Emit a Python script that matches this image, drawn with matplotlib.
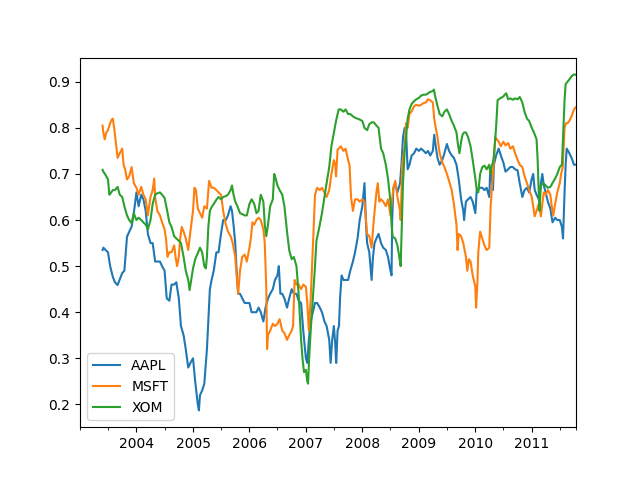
import matplotlib
matplotlib.use("Agg")
import matplotlib.pyplot as plt
import matplotlib.dates as mdates
import pandas as pd

# 125-day rolling correlation with SPX
aapl_dates = ["2003-05-27", "2003-06-01", "2003-07-01", "2003-07-15", "2003-08-01", "2003-08-15",
              "2003-09-01", "2003-10-01", "2003-10-15", "2003-11-01", "2003-12-01", "2003-12-15",
              "2004-01-01", "2004-01-15", "2004-02-01", "2004-02-15", "2004-03-01", "2004-03-15",
              "2004-04-01", "2004-04-15", "2004-05-01", "2004-06-01", "2004-06-15", "2004-07-01",
              "2004-07-15", "2004-08-01", "2004-08-15", "2004-09-01", "2004-09-15", "2004-10-01",
              "2004-10-15", "2004-11-01", "2004-11-15", "2004-12-01", "2004-12-15", "2005-01-01",
              "2005-01-15", "2005-02-01", "2005-02-08", "2005-02-15", "2005-03-01", "2005-03-15",
              "2005-04-01", "2005-04-10", "2005-04-20", "2005-05-01", "2005-05-15", "2005-06-01",
              "2005-06-15", "2005-07-01", "2005-07-15", "2005-08-01", "2005-08-15", "2005-09-01",
              "2005-09-10", "2005-09-20", "2005-10-01", "2005-10-10", "2005-10-20", "2005-11-01",
              "2005-12-01", "2006-01-01", "2006-01-15", "2006-02-01", "2006-02-15", "2006-03-01",
              "2006-03-15", "2006-04-01", "2006-04-15", "2006-05-01", "2006-05-15", "2006-06-01",
              "2006-06-15", "2006-07-01", "2006-07-10", "2006-07-20", "2006-08-01", "2006-08-15",
              "2006-09-01", "2006-09-15", "2006-10-01", "2006-10-15", "2006-11-01", "2006-11-15",
              "2006-12-01", "2006-12-15", "2007-01-01", "2007-01-10", "2007-01-20", "2007-02-01",
              "2007-02-15", "2007-03-01", "2007-03-15", "2007-04-01", "2007-04-15", "2007-05-01",
              "2007-05-15", "2007-06-01", "2007-06-10", "2007-06-20", "2007-07-01", "2007-07-10",
              "2007-07-16", "2007-07-25", "2007-08-03", "2007-08-10", "2007-08-20", "2007-09-01",
              "2007-09-15", "2007-10-01", "2007-10-15", "2007-11-01", "2007-11-15", "2007-12-01",
              "2007-12-15", "2008-01-01", "2008-01-15", "2008-01-25", "2008-02-01", "2008-02-15",
              "2008-03-01", "2008-03-10", "2008-03-20", "2008-04-01", "2008-04-15", "2008-05-01",
              "2008-05-15", "2008-06-01", "2008-06-15", "2008-07-01", "2008-07-08", "2008-07-12",
              "2008-07-20", "2008-08-01", "2008-08-15", "2008-09-01", "2008-09-10", "2008-09-20",
              "2008-10-01", "2008-10-10", "2008-10-20", "2008-11-01", "2008-11-15", "2008-12-01",
              "2008-12-15", "2009-01-01", "2009-01-15", "2009-02-01", "2009-02-15", "2009-03-01",
              "2009-03-15", "2009-04-01", "2009-04-10", "2009-04-20", "2009-05-01", "2009-05-15",
              "2009-06-01", "2009-06-15", "2009-07-01", "2009-07-15", "2009-08-01", "2009-08-15",
              "2009-09-01", "2009-09-15", "2009-10-01", "2009-10-15", "2009-10-20", "2009-11-01",
              "2009-11-15", "2009-12-01", "2009-12-15", "2010-01-01", "2010-01-10", "2010-02-01",
              "2010-02-15", "2010-03-01", "2010-03-15", "2010-04-01", "2010-04-08", "2010-04-15",
              "2010-04-25", "2010-05-01", "2010-05-15", "2010-06-01", "2010-06-15", "2010-07-01",
              "2010-07-15", "2010-08-01", "2010-08-15", "2010-09-01", "2010-09-15", "2010-10-01",
              "2010-10-15", "2010-11-01", "2010-11-15", "2010-12-01", "2010-12-15", "2011-01-01",
              "2011-01-10", "2011-01-20", "2011-02-01", "2011-02-15", "2011-03-01", "2011-03-10",
              "2011-03-20", "2011-04-01", "2011-04-15", "2011-05-01", "2011-05-15", "2011-06-01",
              "2011-06-15", "2011-07-01", "2011-07-15", "2011-07-22", "2011-08-01", "2011-08-08",
              "2011-08-15", "2011-09-01", "2011-09-15", "2011-10-01", "2011-10-14"]
aapl_vals = [0.535, 0.54, 0.53, 0.50, 0.477, 0.465,
             0.459, 0.485, 0.49, 0.564, 0.586, 0.615,
             0.66, 0.63, 0.655, 0.645, 0.62, 0.57,
             0.55, 0.55, 0.51, 0.51, 0.50, 0.49,
             0.43, 0.425, 0.46, 0.46, 0.465, 0.43,
             0.37, 0.35, 0.32, 0.28, 0.29, 0.30,
             0.25, 0.20, 0.187, 0.22, 0.23, 0.245,
             0.32, 0.38, 0.45, 0.47, 0.49, 0.53,
             0.53, 0.57, 0.60, 0.60, 0.61, 0.63,
             0.62, 0.59, 0.55, 0.49, 0.44, 0.44,
             0.42, 0.42, 0.40, 0.40, 0.40, 0.41,
             0.40, 0.38, 0.41, 0.43, 0.44, 0.45,
             0.47, 0.48, 0.50, 0.44, 0.44, 0.43,
             0.41, 0.43, 0.45, 0.44, 0.44, 0.425,
             0.42, 0.36, 0.30, 0.29, 0.34, 0.38,
             0.40, 0.42, 0.42, 0.41, 0.40, 0.38,
             0.37, 0.34, 0.29, 0.34, 0.37, 0.33,
             0.29, 0.36, 0.37, 0.43, 0.48, 0.47,
             0.47, 0.47, 0.49, 0.51, 0.53, 0.56,
             0.60, 0.63, 0.68, 0.59, 0.55, 0.53,
             0.47, 0.52, 0.55, 0.56, 0.57, 0.55,
             0.54, 0.535, 0.52, 0.49, 0.48, 0.60,
             0.67, 0.68, 0.66, 0.68, 0.72, 0.78,
             0.80, 0.79, 0.71, 0.72, 0.74, 0.745,
             0.755, 0.75, 0.755, 0.75, 0.745, 0.75,
             0.74, 0.75, 0.785, 0.76, 0.735, 0.72,
             0.73, 0.745, 0.765, 0.75, 0.74, 0.735,
             0.72, 0.69, 0.645, 0.62, 0.60, 0.64,
             0.645, 0.65, 0.64, 0.615, 0.665, 0.67,
             0.67, 0.665, 0.67, 0.65, 0.715, 0.69,
             0.665, 0.72, 0.74, 0.755, 0.74, 0.725,
             0.705, 0.71, 0.715, 0.715, 0.71, 0.708,
             0.68, 0.65, 0.665, 0.67, 0.66, 0.69,
             0.70, 0.665, 0.655, 0.645, 0.68, 0.70,
             0.675, 0.66, 0.64, 0.625, 0.595, 0.605,
             0.60, 0.60, 0.585, 0.56, 0.66, 0.72,
             0.755, 0.745, 0.735, 0.72, 0.72]

msft_dates = ["2003-05-27", "2003-06-01", "2003-06-10", "2003-06-20", "2003-07-01", "2003-07-15",
              "2003-07-25", "2003-08-01", "2003-08-10", "2003-08-20", "2003-09-01", "2003-09-15",
              "2003-10-01", "2003-10-10", "2003-10-20", "2003-11-01", "2003-11-15", "2003-12-01",
              "2003-12-15", "2004-01-01", "2004-01-15", "2004-02-01", "2004-02-15", "2004-03-01",
              "2004-03-15", "2004-04-01", "2004-04-15", "2004-04-25", "2004-05-01", "2004-05-15",
              "2004-06-01", "2004-06-15", "2004-07-01", "2004-07-10", "2004-07-20", "2004-08-01",
              "2004-08-15", "2004-09-01", "2004-09-10", "2004-09-20", "2004-10-01", "2004-10-10",
              "2004-10-20", "2004-11-01", "2004-11-15", "2004-12-01", "2004-12-15", "2005-01-01",
              "2005-01-10", "2005-01-20", "2005-02-01", "2005-02-15", "2005-03-01", "2005-03-15",
              "2005-04-01", "2005-04-15", "2005-05-01", "2005-05-15", "2005-06-01", "2005-06-15",
              "2005-07-01", "2005-07-15", "2005-08-01", "2005-08-15", "2005-09-01", "2005-09-15",
              "2005-10-01", "2005-10-10", "2005-10-20", "2005-11-01", "2005-11-15", "2005-12-01",
              "2005-12-15", "2006-01-01", "2006-01-10", "2006-01-20", "2006-02-01", "2006-02-15",
              "2006-03-01", "2006-03-15", "2006-04-01", "2006-04-10", "2006-04-20", "2006-04-25",
              "2006-05-01", "2006-05-15", "2006-06-01", "2006-06-15", "2006-07-01", "2006-07-15",
              "2006-08-01", "2006-08-15", "2006-09-01", "2006-09-15", "2006-10-01", "2006-10-10",
              "2006-10-20", "2006-11-01", "2006-11-15", "2006-12-01", "2006-12-15", "2007-01-01",
              "2007-01-10", "2007-01-20", "2007-02-01", "2007-02-10", "2007-02-20", "2007-03-01",
              "2007-03-15", "2007-04-01", "2007-04-15", "2007-05-01", "2007-05-15", "2007-06-01",
              "2007-06-15", "2007-07-01", "2007-07-10", "2007-07-15", "2007-07-25", "2007-08-01",
              "2007-08-15", "2007-09-01", "2007-09-15", "2007-10-01", "2007-10-10", "2007-10-20",
              "2007-11-01", "2007-11-15", "2007-12-01", "2007-12-15", "2008-01-01", "2008-01-15",
              "2008-02-01", "2008-02-15", "2008-03-01", "2008-03-15", "2008-04-01", "2008-04-10",
              "2008-04-20", "2008-05-01", "2008-05-15", "2008-06-01", "2008-06-15", "2008-07-01",
              "2008-07-10", "2008-07-20", "2008-08-01", "2008-08-15", "2008-09-01", "2008-09-05",
              "2008-09-15", "2008-10-01", "2008-10-10", "2008-10-20", "2008-11-01", "2008-11-15",
              "2008-12-01", "2008-12-15", "2009-01-01", "2009-01-15", "2009-02-01", "2009-02-15",
              "2009-03-01", "2009-03-15", "2009-04-01", "2009-04-10", "2009-04-20", "2009-05-01",
              "2009-05-15", "2009-06-01", "2009-06-15", "2009-07-01", "2009-07-15", "2009-08-01",
              "2009-08-15", "2009-09-01", "2009-09-08", "2009-09-15", "2009-10-01", "2009-10-15",
              "2009-11-01", "2009-11-10", "2009-11-20", "2009-12-01", "2009-12-15", "2010-01-01",
              "2010-01-06", "2010-01-15", "2010-01-20", "2010-02-01", "2010-02-15", "2010-03-01",
              "2010-03-15", "2010-04-01", "2010-04-10", "2010-04-20", "2010-05-01", "2010-05-10",
              "2010-05-20", "2010-06-01", "2010-06-15", "2010-07-01", "2010-07-15", "2010-08-01",
              "2010-08-15", "2010-09-01", "2010-09-15", "2010-10-01", "2010-10-15", "2010-11-01",
              "2010-11-15", "2010-12-01", "2010-12-15", "2011-01-01", "2011-01-10", "2011-01-20",
              "2011-02-01", "2011-02-15", "2011-03-01", "2011-03-10", "2011-03-20", "2011-04-01",
              "2011-04-15", "2011-05-01", "2011-05-10", "2011-05-20", "2011-06-01", "2011-06-15",
              "2011-07-01", "2011-07-10", "2011-07-20", "2011-08-01", "2011-08-10", "2011-08-20",
              "2011-09-01", "2011-09-15", "2011-10-01", "2011-10-14"]
msft_vals = [0.805, 0.79, 0.775, 0.79, 0.795, 0.81,
             0.818, 0.82, 0.80, 0.77, 0.735, 0.745,
             0.755, 0.72, 0.71, 0.688, 0.695, 0.715,
             0.68, 0.67, 0.655, 0.672, 0.655, 0.645,
             0.61, 0.65, 0.665, 0.69, 0.65, 0.62,
             0.61, 0.595, 0.58, 0.56, 0.52, 0.53,
             0.53, 0.545, 0.52, 0.50, 0.52, 0.56,
             0.585, 0.575, 0.56, 0.535, 0.575, 0.62,
             0.67, 0.665, 0.625, 0.615, 0.605, 0.63,
             0.625, 0.685, 0.67, 0.67, 0.665, 0.66,
             0.655, 0.62, 0.59, 0.575, 0.565, 0.55,
             0.52, 0.48, 0.44, 0.49, 0.52, 0.525,
             0.51, 0.54, 0.56, 0.595, 0.59, 0.60,
             0.605, 0.60, 0.58, 0.55, 0.45, 0.32,
             0.35, 0.36, 0.375, 0.37, 0.375, 0.385,
             0.36, 0.355, 0.34, 0.35, 0.36, 0.37,
             0.47, 0.46, 0.46, 0.45, 0.46, 0.455,
             0.42, 0.36, 0.43, 0.50, 0.58, 0.655,
             0.67, 0.665, 0.67, 0.66, 0.65, 0.665,
             0.70, 0.73, 0.72, 0.695, 0.753, 0.755,
             0.76, 0.75, 0.755, 0.73, 0.72, 0.65,
             0.62, 0.645, 0.645, 0.64, 0.645, 0.64,
             0.57, 0.565, 0.54, 0.60, 0.66, 0.68,
             0.64, 0.645, 0.64, 0.63, 0.645, 0.61,
             0.64, 0.67, 0.685, 0.65, 0.62, 0.60,
             0.72, 0.76, 0.81, 0.80, 0.83, 0.836,
             0.847, 0.85, 0.848, 0.85, 0.854, 0.855,
             0.862, 0.86, 0.855, 0.82, 0.80, 0.78,
             0.745, 0.725, 0.715, 0.70, 0.685, 0.665,
             0.635, 0.59, 0.535, 0.57, 0.565, 0.55,
             0.52, 0.49, 0.515, 0.51, 0.48, 0.455,
             0.41, 0.47, 0.53, 0.575, 0.56, 0.545,
             0.535, 0.54, 0.63, 0.68, 0.73, 0.78,
             0.775, 0.77, 0.76, 0.77, 0.762, 0.767,
             0.755, 0.76, 0.745, 0.731, 0.72, 0.715,
             0.695, 0.68, 0.665, 0.65, 0.63, 0.608,
             0.62, 0.635, 0.608, 0.635, 0.66, 0.655,
             0.665, 0.655, 0.63, 0.61, 0.635, 0.66,
             0.68, 0.70, 0.715, 0.80, 0.81, 0.81,
             0.815, 0.825, 0.84, 0.845]

xom_dates = ["2003-05-27", "2003-06-01", "2003-06-15", "2003-07-01", "2003-07-10", "2003-07-20",
             "2003-08-01", "2003-08-15", "2003-09-01", "2003-09-15", "2003-10-01", "2003-10-15",
             "2003-11-01", "2003-11-15", "2003-12-01", "2003-12-15", "2004-01-01", "2004-01-15",
             "2004-02-01", "2004-02-15", "2004-03-01", "2004-03-15", "2004-04-01", "2004-04-15",
             "2004-05-01", "2004-05-15", "2004-06-01", "2004-06-15", "2004-07-01", "2004-07-15",
             "2004-08-01", "2004-08-15", "2004-09-01", "2004-09-15", "2004-10-01", "2004-10-15",
             "2004-11-01", "2004-11-15", "2004-12-01", "2004-12-10", "2004-12-20", "2005-01-01",
             "2005-01-15", "2005-02-01", "2005-02-15", "2005-03-01", "2005-03-15", "2005-03-25",
             "2005-04-01", "2005-04-10", "2005-04-20", "2005-05-01", "2005-05-15", "2005-06-01",
             "2005-06-15", "2005-07-01", "2005-07-15", "2005-08-01", "2005-08-15", "2005-09-01",
             "2005-09-10", "2005-09-20", "2005-10-01", "2005-10-15", "2005-11-01", "2005-11-15",
             "2005-12-01", "2005-12-15", "2006-01-01", "2006-01-15", "2006-02-01", "2006-02-15",
             "2006-03-01", "2006-03-15", "2006-04-01", "2006-04-10", "2006-04-20", "2006-05-01",
             "2006-05-15", "2006-06-01", "2006-06-10", "2006-06-20", "2006-07-01", "2006-07-15",
             "2006-08-01", "2006-08-15", "2006-09-01", "2006-09-15", "2006-10-01", "2006-10-15",
             "2006-11-01", "2006-11-15", "2006-12-01", "2006-12-10", "2006-12-20", "2007-01-01",
             "2007-01-10", "2007-01-15", "2007-01-22", "2007-02-01", "2007-02-15", "2007-03-01",
             "2007-03-10", "2007-03-20", "2007-04-01", "2007-04-15", "2007-05-01", "2007-05-15",
             "2007-06-01", "2007-06-15", "2007-07-01", "2007-07-15", "2007-08-01", "2007-08-15",
             "2007-09-01", "2007-09-15", "2007-10-01", "2007-10-15", "2007-11-01", "2007-11-15",
             "2007-12-01", "2007-12-15", "2008-01-01", "2008-01-15", "2008-02-01", "2008-02-15",
             "2008-03-01", "2008-03-15", "2008-04-01", "2008-04-15", "2008-05-01", "2008-05-15",
             "2008-06-01", "2008-06-15", "2008-07-01", "2008-07-08", "2008-07-15", "2008-08-01",
             "2008-08-15", "2008-09-01", "2008-09-05", "2008-09-10", "2008-09-20", "2008-10-01",
             "2008-10-10", "2008-10-20", "2008-11-01", "2008-11-15", "2008-12-01", "2008-12-15",
             "2009-01-01", "2009-01-15", "2009-02-01", "2009-02-15", "2009-03-01", "2009-03-15",
             "2009-04-01", "2009-04-08", "2009-04-15", "2009-05-01", "2009-05-15", "2009-06-01",
             "2009-06-15", "2009-07-01", "2009-07-15", "2009-08-01", "2009-08-15", "2009-09-01",
             "2009-09-10", "2009-09-20", "2009-10-01", "2009-10-10", "2009-10-20", "2009-11-01",
             "2009-11-15", "2009-12-01", "2009-12-15", "2010-01-01", "2010-01-10", "2010-01-20",
             "2010-02-01", "2010-02-15", "2010-03-01", "2010-03-15", "2010-04-01", "2010-04-08",
             "2010-04-15", "2010-04-25", "2010-05-01", "2010-05-08", "2010-05-15", "2010-05-25",
             "2010-06-01", "2010-06-15", "2010-07-01", "2010-07-10", "2010-07-20", "2010-08-01",
             "2010-08-15", "2010-09-01", "2010-09-15", "2010-10-01", "2010-10-15", "2010-11-01",
             "2010-11-15", "2010-12-01", "2010-12-15", "2011-01-01", "2011-01-15", "2011-02-01",
             "2011-02-08", "2011-02-15", "2011-02-20", "2011-03-01", "2011-03-15", "2011-04-01",
             "2011-04-15", "2011-05-01", "2011-05-15", "2011-06-01", "2011-06-15", "2011-07-01",
             "2011-07-15", "2011-07-25", "2011-08-01", "2011-08-08", "2011-08-20", "2011-09-01",
             "2011-09-15", "2011-10-01", "2011-10-14"]
xom_vals = [0.709, 0.705, 0.698, 0.688, 0.655, 0.659,
            0.665, 0.665, 0.672, 0.655, 0.65, 0.63,
            0.61, 0.60, 0.593, 0.615, 0.60, 0.605,
            0.60, 0.595, 0.59, 0.58, 0.60, 0.635,
            0.655, 0.658, 0.66, 0.655, 0.648, 0.625,
            0.595, 0.585, 0.565, 0.56, 0.555, 0.55,
            0.52, 0.49, 0.47, 0.448, 0.47, 0.495,
            0.515, 0.528, 0.54, 0.53, 0.50, 0.495,
            0.52, 0.585, 0.62, 0.628, 0.635, 0.644,
            0.65, 0.645, 0.65, 0.652, 0.655, 0.665,
            0.675, 0.655, 0.64, 0.63, 0.615, 0.613,
            0.61, 0.61, 0.635, 0.645, 0.635, 0.615,
            0.62, 0.655, 0.64, 0.59, 0.565, 0.59,
            0.63, 0.645, 0.70, 0.69, 0.675, 0.665,
            0.655, 0.63, 0.575, 0.535, 0.515, 0.52,
            0.50, 0.44, 0.34, 0.30, 0.27, 0.275,
            0.25, 0.245, 0.30, 0.36, 0.43, 0.50,
            0.555, 0.57, 0.59, 0.615, 0.65, 0.68,
            0.715, 0.76, 0.79, 0.815, 0.84, 0.84,
            0.835, 0.84, 0.83, 0.83, 0.825, 0.822,
            0.82, 0.818, 0.815, 0.80, 0.795, 0.808,
            0.812, 0.812, 0.805, 0.80, 0.755, 0.745,
            0.72, 0.69, 0.64, 0.59, 0.564, 0.56,
            0.545, 0.51, 0.50, 0.56, 0.68, 0.75,
            0.78, 0.82, 0.84, 0.852, 0.858, 0.862,
            0.865, 0.87, 0.872, 0.872, 0.875, 0.878,
            0.88, 0.883, 0.87, 0.848, 0.83, 0.825,
            0.835, 0.84, 0.83, 0.815, 0.805, 0.79,
            0.765, 0.745, 0.77, 0.785, 0.79, 0.79,
            0.78, 0.76, 0.73, 0.69, 0.665, 0.66,
            0.70, 0.715, 0.718, 0.71, 0.72, 0.70,
            0.715, 0.725, 0.74, 0.77, 0.80, 0.86,
            0.862, 0.865, 0.868, 0.872, 0.875, 0.862,
            0.864, 0.861, 0.864, 0.862, 0.867, 0.855,
            0.835, 0.82, 0.815, 0.80, 0.79, 0.775,
            0.73, 0.66, 0.62, 0.675, 0.68, 0.675,
            0.67, 0.672, 0.68, 0.69, 0.70, 0.715,
            0.72, 0.80, 0.86, 0.895, 0.90, 0.905,
            0.912, 0.916, 0.915]

series = {"AAPL": (aapl_dates, aapl_vals),
          "MSFT": (msft_dates, msft_vals),
          "XOM": (xom_dates, xom_vals)}

fig, ax = plt.subplots(figsize=(6.4, 4.8), dpi=100)
for name, (d, v) in series.items():
    ax.plot(pd.to_datetime(d), v, label=name)

start = pd.Timestamp("2003-01-02")
end = pd.Timestamp("2011-10-14")
ax.set_xlim(start, end)

years = pd.to_datetime([f"{y}-01-01" for y in range(2004, 2012)])
halves = pd.to_datetime(["2003-01-01"] + [f"{y}-07-01" for y in range(2003, 2012)] + ["2011-10-14"])
ax.set_xticks(mdates.date2num(years))
ax.set_xticklabels([str(y) for y in range(2004, 2012)])
ax.set_xticks(mdates.date2num(halves), minor=True)

ax.legend(loc="lower left")
fig.savefig("out.png")
